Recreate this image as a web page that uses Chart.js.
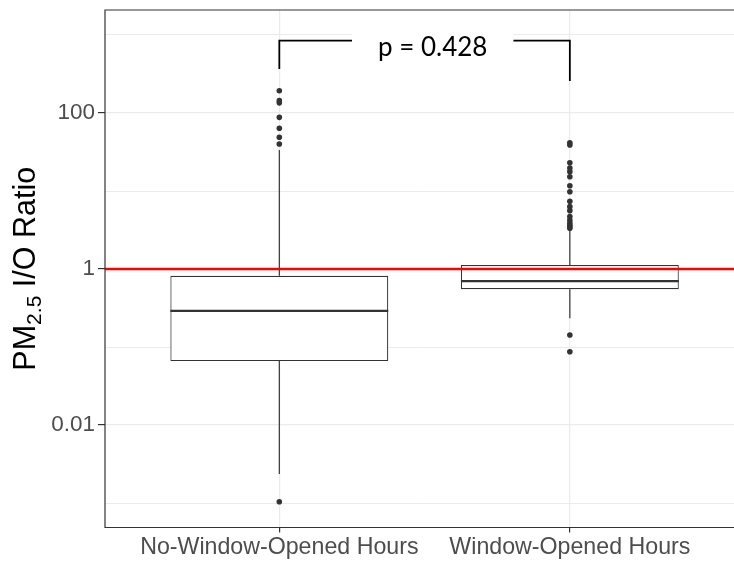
<!DOCTYPE html>
<html>
<head>
<meta charset="utf-8">
<script src="https://cdn.jsdelivr.net/npm/chart.js@4.4.1/dist/chart.umd.min.js"></script>
<style>
  html, body { margin: 0; padding: 0; background: #ffffff; overflow: hidden; }
  canvas { display: block; }
</style>
</head>
<body>
<canvas id="chart" width="734" height="561"></canvas>
<script>
// Groups on the x axis
const categories = ['No-Window-Opened Hours', 'Window-Opened Hours'];

// Box-plot summaries of the PM2.5 indoor/outdoor ratio, one entry per group
const lowerWhiskers  = [0.00235, 0.233];
const lowerQuartiles = [0.066, 0.55];
const medians        = [0.29, 0.70];
const upperQuartiles = [0.82, 1.125];
const upperWhiskers  = [33.6, 3.2];

// Points beyond the whiskers
const outliersNoWindow = [193, 144, 135, 88, 63.7, 48.8, 40, 0.00104];
const outliersWindow   = [41.6, 38.9, 23, 19.7, 17.7, 15.2, 11.7, 9.8, 7.4, 6.3,
                          5.6, 4.7, 4.25, 3.9, 3.66, 3.5, 3.33, 0.1426, 0.087];

// Log axis: grid positions and the ones that carry a label
const yTicks    = [0.001, 0.01, 0.1, 1, 10, 100, 1000];
const yLabelled = [0.01, 1, 100];

// Reference level (indoor = outdoor) and the significance bracket
const referenceRatio = 1;
const bracketTop  = 845;
const bracketLegs = [366, 257];
const pValueLabel = 'p = 0.428';

// Layout constants
const BOX_WIDTH = 0.75;
const X_MIN = 0.4;
const X_MAX = 2.565;
const Y_MIN = Math.pow(10, -3.314);
const Y_MAX = Math.pow(10, 3.3205);
const LABEL_X = 1.528;
const TICK_FONT = { family: '"Liberation Sans", Arial, sans-serif', size: 22.5 };
const CAT_FONT = { family: '"Liberation Sans", Arial, sans-serif', size: 23.2 };
const AXIS_TEXT = '#4d4d4d';
const INK = '#333333';
const GRID = '#ebebeb';

const outlierPoints = [
  ...outliersNoWindow.map(v => ({ x: 1, y: v })),
  ...outliersWindow.map(v => ({ x: 2, y: v }))
];

const whiskerPoints = categories.flatMap((c, i) => [
  { x: i + 1, y: upperQuartiles[i] }, { x: i + 1, y: upperWhiskers[i] }, { x: i + 1, y: null },
  { x: i + 1, y: lowerQuartiles[i] }, { x: i + 1, y: lowerWhiskers[i] }, { x: i + 1, y: null }
]);

const medianPoints = categories.flatMap((c, i) => [
  { x: i + 1 - BOX_WIDTH / 2, y: medians[i] },
  { x: i + 1 + BOX_WIDTH / 2, y: medians[i] },
  { x: i + 1.5, y: null }
]);

// Panel frame, p-value label and the y-axis title with its subscript
const decorations = {
  id: 'decorations',
  afterDatasetsDraw(chart) {
    const { ctx, chartArea: a, scales: { x, y } } = chart;
    ctx.save();
    ctx.strokeStyle = INK;
    ctx.lineWidth = 1.2;
    ctx.beginPath();
    ctx.moveTo(a.right + 10, a.top);
    ctx.lineTo(a.left, a.top);
    ctx.lineTo(a.left, a.bottom);
    ctx.lineTo(a.right + 10, a.bottom);
    ctx.stroke();

    const cx = x.getPixelForValue(LABEL_X);
    const by = y.getPixelForValue(bracketTop);
    ctx.font = '26px Lato, "Open Sans", sans-serif';
    const tw = ctx.measureText(pValueLabel).width;
    ctx.fillStyle = '#ffffff';
    ctx.fillRect(cx - tw / 2 - 26, by - 20, tw + 52, 40);
    ctx.fillStyle = '#000000';
    ctx.textAlign = 'center';
    ctx.textBaseline = 'alphabetic';
    ctx.fillText(pValueLabel, cx, by + 15);
    ctx.restore();
  },
  afterDraw(chart) {
    const { ctx, chartArea: a } = chart;
    const big = 30.5, small = 21;
    const parts = [
      { t: 'PM', f: big + 'px "Liberation Sans", Arial, sans-serif', dy: 0 },
      { t: '2.5', f: small + 'px "Liberation Sans", Arial, sans-serif', dy: 6 },
      { t: ' I/O Ratio', f: big + 'px "Liberation Sans", Arial, sans-serif', dy: 0 }
    ];
    ctx.save();
    let total = 0;
    parts.forEach(p => { ctx.font = p.f; p.w = ctx.measureText(p.t).width; total += p.w; });
    ctx.translate(35, (a.top + a.bottom) / 2);
    ctx.rotate(-Math.PI / 2);
    ctx.fillStyle = '#000000';
    ctx.textBaseline = 'alphabetic';
    ctx.textAlign = 'left';
    let px = -total / 2;
    parts.forEach(p => { ctx.font = p.f; ctx.fillText(p.t, px, p.dy); px += p.w; });
    ctx.restore();
  }
};

new Chart(document.getElementById('chart'), {
  type: 'bar',
  data: {
    datasets: [
      {
        type: 'line',
        data: [{ x: X_MIN, y: referenceRatio }, { x: X_MAX, y: referenceRatio }],
        borderColor: '#ff0000', borderWidth: 2.6, pointRadius: 0, order: 0
      },
      {
        type: 'line',
        data: [{ x: 1, y: bracketLegs[0] }, { x: 1, y: bracketTop },
               { x: 2, y: bracketTop }, { x: 2, y: bracketLegs[1] }],
        borderColor: '#000000', borderWidth: 1.8, pointRadius: 0, order: 0
      },
      {
        type: 'scatter',
        data: outlierPoints,
        backgroundColor: INK, borderWidth: 0, pointRadius: 2.8, order: 1
      },
      {
        type: 'line',
        data: medianPoints,
        borderColor: INK, borderWidth: 2.3, pointRadius: 0, spanGaps: false, order: 2
      },
      {
        type: 'bar',
        data: categories.map((c, i) => ({ x: i + 1, y: [lowerQuartiles[i], upperQuartiles[i]] })),
        backgroundColor: '#ffffff', borderColor: INK, borderWidth: 1.2, borderSkipped: false,
        categoryPercentage: BOX_WIDTH, barPercentage: 1, order: 4
      },
      {
        type: 'line',
        data: whiskerPoints,
        borderColor: INK, borderWidth: 1.2, pointRadius: 0, spanGaps: false, order: 5
      }
    ]
  },
  options: {
    responsive: false,
    animation: false,
    devicePixelRatio: 1,
    layout: { autoPadding: false, padding: { top: 10, right: 0, left: 0, bottom: 0 } },
    plugins: { legend: { display: false }, tooltip: { enabled: false } },
    scales: {
      x: {
        type: 'linear', min: X_MIN, max: X_MAX, offset: false,
        afterBuildTicks: s => { s.ticks = categories.map((c, i) => ({ value: i + 1 })); },
        afterFit: s => { s.height = 33.5; s.paddingLeft = 0; s.paddingRight = 0; },
        ticks: {
          callback: v => categories[v - 1] || '',
          font: CAT_FONT, color: AXIS_TEXT, padding: 1, maxRotation: 0, autoSkip: false
        },
        grid: { offset: false, color: GRID, lineWidth: 1.2, tickLength: 5, tickColor: INK, tickWidth: 1.2 },
        border: { display: false }
      },
      y: {
        type: 'logarithmic', min: Y_MIN, max: Y_MAX,
        afterBuildTicks: s => { s.ticks = yTicks.map(v => ({ value: v })); },
        afterFit: s => { s.width = 105; s.paddingTop = 0; s.paddingBottom = 0; },
        ticks: {
          callback: v => yLabelled.includes(v) ? String(v) : '',
          font: TICK_FONT, color: AXIS_TEXT, padding: 3, autoSkip: false
        },
        grid: {
          color: GRID,
          lineWidth: c => (c.tick && yLabelled.includes(c.tick.value)) ? 1.2 : 1,
          tickLength: 7,
          tickColor: c => (c.tick && yLabelled.includes(c.tick.value)) ? INK : 'rgba(0,0,0,0)',
          tickWidth: 1.2
        },
        border: { display: false }
      }
    }
  },
  plugins: [decorations]
});
</script>
</body>
</html>
